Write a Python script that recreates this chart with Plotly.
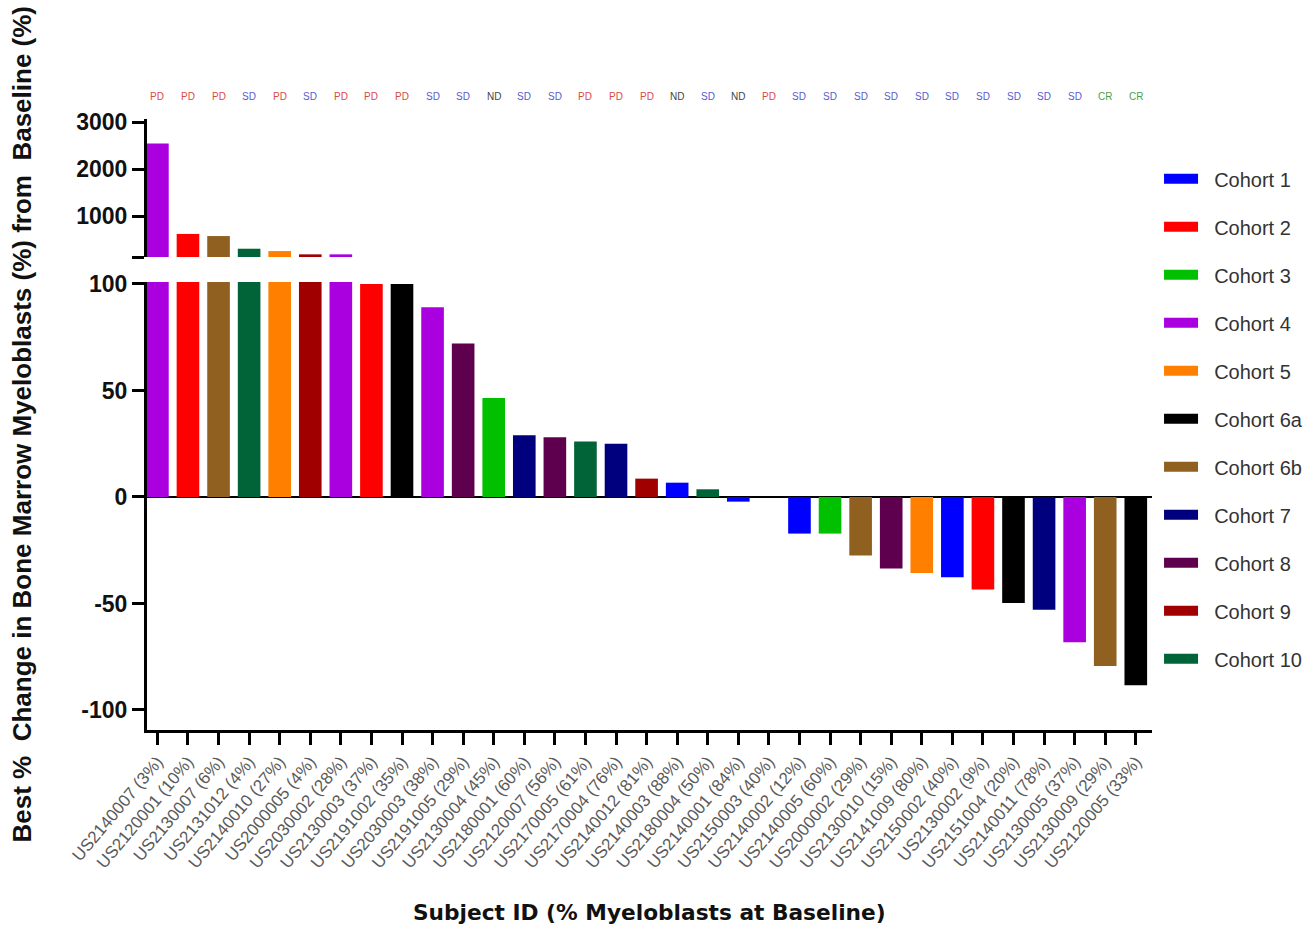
import plotly.graph_objects as go

# ---------------- data ----------------
SUBJECTS = [
    "US2140007 (3%)", "US2120001 (10%)", "US2130007 (6%)", "US2131012 (4%)",
    "US2140010 (27%)", "US2000005 (4%)", "US2030002 (28%)", "US2130003 (37%)",
    "US2191002 (35%)", "US2030003 (38%)", "US2191005 (29%)", "US2130004 (45%)",
    "US2180001 (60%)", "US2120007 (56%)", "US2170005 (61%)", "US2170004 (76%)",
    "US2140012 (81%)", "US2140003 (88%)", "US2180004 (50%)", "US2140001 (84%)",
    "US2150003 (40%)", "US2140002 (12%)", "US2140005 (60%)", "US2000002 (29%)",
    "US2130010 (15%)", "US2141009 (80%)", "US2150002 (40%)", "US2130002 (9%)",
    "US2151004 (20%)", "US2140011 (78%)", "US2130005 (37%)", "US2130009 (29%)",
    "US2120005 (33%)",
]
COHORTS = [
    "Cohort 4", "Cohort 2", "Cohort 6b", "Cohort 10", "Cohort 5", "Cohort 9",
    "Cohort 4", "Cohort 2", "Cohort 6a", "Cohort 4", "Cohort 8", "Cohort 3",
    "Cohort 7", "Cohort 8", "Cohort 10", "Cohort 7", "Cohort 9", "Cohort 1",
    "Cohort 10", "Cohort 1", "Cohort 1", "Cohort 1", "Cohort 3", "Cohort 6b",
    "Cohort 8", "Cohort 5", "Cohort 1", "Cohort 2", "Cohort 6a", "Cohort 7",
    "Cohort 4", "Cohort 6b", "Cohort 6a",
]
CHANGE = [
    2550, 620, 575, 305, 255, 185, 185, 100, 100, 89, 72, 46.5,
    29, 28, 26, 25, 8.6, 6.7, 3.6, -2.2, 0, -17.2, -17.2, -27.5,
    -33.6, -35.7, -37.7, -43.5, -49.8, -52.9, -68.2, -79.3, -88.4,
]
RESPONSE = [
    "PD", "PD", "PD", "SD", "PD", "SD", "PD", "PD", "PD", "SD", "SD", "ND",
    "SD", "SD", "PD", "PD", "PD", "ND", "SD", "ND", "PD", "SD", "SD", "SD",
    "SD", "SD", "SD", "SD", "SD", "SD", "SD", "CR", "CR",
]
COHORT_NAMES = ["Cohort 1", "Cohort 2", "Cohort 3", "Cohort 4", "Cohort 5",
                "Cohort 6a", "Cohort 6b", "Cohort 7", "Cohort 8", "Cohort 9",
                "Cohort 10"]
COHORT_COLORS = ["#0000ff", "#ff0000", "#00c000", "#aa00e0", "#ff8000",
                 "#000000", "#906020", "#00007f", "#5e004e", "#a00000",
                 "#006438"]
RESPONSE_COLORS = {"PD": "#d84848", "SD": "#5a5ad0", "ND": "#444444",
                   "CR": "#4aa04a"}
TOP_TICKS = [1000, 2000, 3000]
BOTTOM_TICKS = [-100, -50, 0, 50, 100]
BOTTOM_TICK_TEXT = ["-100", "-50", "0", "50", "100"]

# ---------------- figure ----------------
fig = go.Figure()
color_of = dict(zip(COHORT_NAMES, COHORT_COLORS))
NBSP = "\u00a0\u00a0"

for name in COHORT_NAMES:
    xs = [s for s, c in zip(SUBJECTS, COHORTS) if c == name]
    ys = [v for v, c in zip(CHANGE, COHORTS) if c == name]
    for ax in ("y", "y2"):
        fig.add_trace(go.Bar(
            x=xs, y=ys, yaxis=ax, xaxis="x", width=0.74,
            marker=dict(color=color_of[name], line=dict(width=0)),
            showlegend=False, name=name, legendgroup=name,
        ))
    # legend entry (wide rectangle swatch)
    fig.add_trace(go.Scatter(
        x=[None], y=[None], mode="lines", name=NBSP + name, legendgroup=name,
        line=dict(color=color_of[name], width=12), showlegend=True,
    ))

annotations = []
for s, r in zip(SUBJECTS, RESPONSE):
    annotations.append(dict(
        x=s, xref="x", y=1.0376, yref="paper", text=r, showarrow=False,
        font=dict(family="Liberation Sans", size=10, color=RESPONSE_COLORS[r]),
        xanchor="center", yanchor="middle",
    ))
annotations.append(dict(
    x=-0.1244, xref="paper", y=0.5, yref="paper", textangle=-90,
    text="Best %  Change in Bone Marrow Myeloblasts (%) from  Baseline (%)",
    showarrow=False, xanchor="center", yanchor="middle",
    font=dict(family="Liberation Sans", size=26, color="#111", weight="bold"),
))
annotations.append(dict(
    x=0.5, xref="paper", y=-0.298, yref="paper",
    text="Subject ID (% Myeloblasts at Baseline)", showarrow=False,
    xanchor="center", yanchor="middle",
    font=dict(family="DejaVu Sans", size=21.7, color="#111", weight="bold"),
))

tickfont_y = dict(family="Liberation Sans", size=23, color="#111", weight="bold")

fig.update_layout(
    width=1310, height=929,
    margin=dict(l=147, r=158, t=119, b=199, autoexpand=False),
    paper_bgcolor="white", plot_bgcolor="white",
    barmode="overlay",
    xaxis=dict(
        domain=[0, 1], type="category", categoryorder="array",
        categoryarray=SUBJECTS, range=[-0.34, 32.53],
        showline=True, linecolor="black", linewidth=3,
        ticks="outside", ticklen=12, tickwidth=3, tickcolor="black",
        tickangle=-50, showgrid=False, zeroline=False, anchor="y",
        tickfont=dict(family="Liberation Sans", size=17, color="#5a5a5a"),
    ),
    yaxis=dict(
        domain=[0, 0.7332], range=[-109.4, 100.9],
        tickvals=BOTTOM_TICKS, ticktext=BOTTOM_TICK_TEXT,
        showline=True, linecolor="black", linewidth=3,
        ticks="outside", ticklen=12, tickwidth=3, tickcolor="black",
        showgrid=False, zeroline=True, zerolinecolor="black",
        zerolinewidth=2, tickfont=tickfont_y, anchor="x",
    ),
    yaxis2=dict(
        domain=[0.7741, 1], range=[128, 3070],
        tickvals=[128] + TOP_TICKS, ticktext=[""] + [str(t) for t in TOP_TICKS],
        showline=True, linecolor="black", linewidth=3,
        ticks="outside", ticklen=12, tickwidth=3, tickcolor="black",
        showgrid=False, zeroline=False, tickfont=tickfont_y, anchor="x",
    ),
    legend=dict(
        x=1.007, xanchor="left", y=0.934, yanchor="top",
        font=dict(family="Liberation Sans", size=20, color="#333"),
        tracegroupgap=19, bgcolor="rgba(0,0,0,0)", itemwidth=34,
    ),
    annotations=annotations,
    showlegend=True,
)

fig.write_html("out.html", config={"displayModeBar": False},
               post_script="document.body.style.margin='0';")
